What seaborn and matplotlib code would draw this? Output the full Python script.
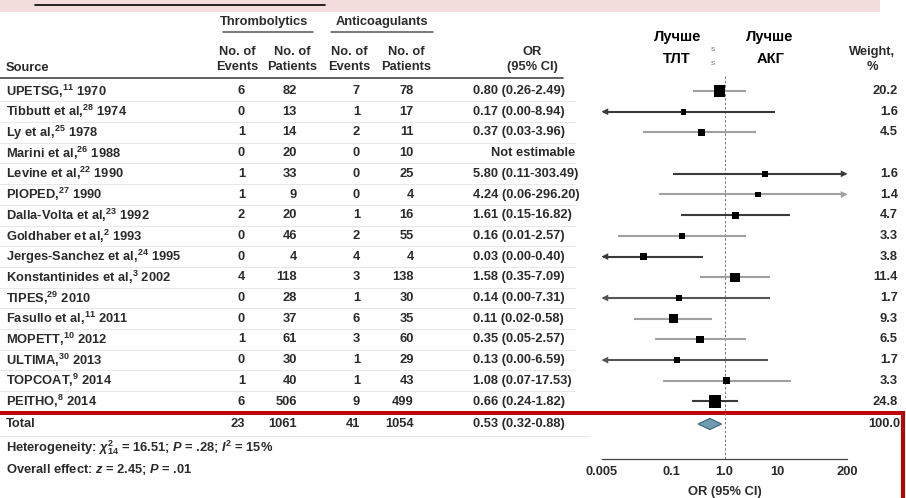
import numpy as np
import pandas as pd
import matplotlib
matplotlib.use('Agg')
import matplotlib.pyplot as plt
from matplotlib import font_manager
from matplotlib.ticker import NullLocator
import seaborn as sns

# Данные исследований (тромболитики vs антикоагулянты)
sources = ['UPETSG', 'Tibbutt et al', 'Ly et al', 'Marini et al', 'Levine et al', 'PIOPED',
           'Dalla-Volta et al', 'Goldhaber et al', 'Jerges-Sanchez et al', 'Konstantinides et al',
           'TIPES', 'Fasullo et al', 'MOPETT', 'ULTIMA', 'TOPCOAT', 'PEITHO']
refs = ['11', '28', '25', '26', '22', '27', '23', '2', '24', '3', '29', '11', '10', '30', '9', '8']
years = [1970, 1974, 1978, 1988, 1990, 1990, 1992, 1993, 1995, 2002, 2010, 2011, 2012, 2013, 2014, 2014]
thr_events = [6, 0, 1, 0, 1, 1, 2, 0, 0, 4, 0, 0, 1, 0, 1, 6]
thr_patients = [82, 13, 14, 20, 33, 9, 20, 46, 4, 118, 28, 37, 61, 30, 40, 506]
acg_events = [7, 1, 2, 0, 0, 0, 1, 2, 4, 3, 1, 6, 3, 1, 1, 9]
acg_patients = [78, 17, 11, 10, 25, 4, 16, 55, 4, 138, 30, 35, 60, 29, 43, 499]
odds_ratio = [0.80, 0.17, 0.37, np.nan, 5.80, 4.24, 1.61, 0.16, 0.03, 1.58, 0.14, 0.11, 0.35, 0.13, 1.08, 0.66]
ci_low = [0.26, 0.00, 0.03, np.nan, 0.11, 0.06, 0.15, 0.01, 0.00, 0.35, 0.00, 0.02, 0.05, 0.00, 0.07, 0.24]
ci_high = [2.49, 8.94, 3.96, np.nan, 303.49, 296.20, 16.82, 2.57, 0.40, 7.09, 7.31, 0.58, 2.57, 6.59, 17.53, 1.82]
weights = [20.2, 1.6, 4.5, np.nan, 1.6, 1.4, 4.7, 3.3, 3.8, 11.4, 1.7, 9.3, 6.5, 1.7, 3.3, 24.8]

total_counts = [23, 1061, 41, 1054]
total_or = [0.53, 0.32, 0.88]
total_weight = 100.0

x_ticks = [0.005, 0.1, 1, 10, 200]
x_ticklabels = ['0.005', '0.1', '1.0', '10', '200']
X_MIN, X_MAX = 0.005, 200

# Раскладка (пиксели)
W, H = 906, 498
ROW_Y0, ROW_DY = 91, 20.7
TOTAL_Y, HET_Y, OVR_Y = 424, 448, 469
AX_TOP, AX_BOTTOM = 75, 459
AX_LEFT, AX_RIGHT = 602, 847
TXT = '#2a2a2a'
line_shades = ['#a0a0a0', '#3a3a3a', '#a0a0a0', '#a0a0a0', '#3a3a3a', '#a0a0a0', '#3a3a3a', '#a0a0a0',
               '#3a3a3a', '#a0a0a0', '#555555', '#a0a0a0', '#a0a0a0', '#555555', '#a0a0a0', '#3a3a3a']

sns.set_theme(style='white')
names = {f.name for f in font_manager.fontManager.ttflist}
FONT = 'Liberation Sans Narrow' if 'Liberation Sans Narrow' in names else 'Liberation Sans'
FS = 10 if FONT == 'Liberation Sans Narrow' else 9.3
plt.rcParams['font.family'] = [FONT, 'DejaVu Sans']
plt.rcParams['mathtext.fontset'] = 'custom'
plt.rcParams['mathtext.rm'] = FONT + ':bold'
plt.rcParams['mathtext.bf'] = FONT + ':bold'
plt.rcParams['mathtext.it'] = FONT + ':italic:bold'

df = pd.DataFrame({'source': sources, 'ref': refs, 'year': years,
                   'te': thr_events, 'tp': thr_patients, 'ae': acg_events, 'ap': acg_patients,
                   'or': odds_ratio, 'lo': ci_low, 'hi': ci_high, 'weight': weights})
df['ypos'] = ROW_Y0 + ROW_DY * np.arange(len(df))

fig = plt.figure(figsize=(W / 100, H / 100), dpi=100)
bg = fig.add_axes([0, 0, 1, 1])
bg.set_xlim(0, W)
bg.set_ylim(H, 0)
bg.axis('off')

# Розовая полоса сверху
bg.add_patch(plt.Rectangle((0, 0), 880, 12, color='#f2dcdc', lw=0))
bg.plot([35, 325], [5, 5], color='black', lw=1.2)

# Заголовки таблицы
hdr = dict(color=TXT, fontsize=FS, fontweight='bold', va='center')
bg.text(264, 22, 'Thrombolytics', ha='center', **hdr)
bg.text(382, 22, 'Anticoagulants', ha='center', **hdr)
bg.plot([223, 313], [32, 32], color='#555', lw=1.1)
bg.plot([331, 433], [32, 32], color='#555', lw=1.1)
for cx, l1, l2 in [(237, 'No. of', 'Events'), (292, 'No. of', 'Patients'),
                   (349, 'No. of', 'Events'), (406, 'No. of', 'Patients'),
                   (532, 'OR', '(95% CI)'), (872, 'Weight,', '%')]:
    bg.text(cx, 52, l1, ha='center', **hdr)
    bg.text(cx, 67, l2, ha='center', **hdr)
bg.text(6, 68, 'Source', ha='left', **hdr)
bg.plot([0, 563], [78, 78], color='#444', lw=1.2)

# Подписи "Лучше ТЛТ / Лучше АКГ"
lab = dict(color='black', fontsize=10.5, fontweight='bold', ha='center', va='center',
           family=['Liberation Sans', 'DejaVu Sans'])
bg.text(678, 37, 'Лучше', **lab)
bg.text(677, 59, 'ТЛТ', **lab)
bg.text(770, 37, 'Лучше', **lab)
bg.text(771, 59, 'АКГ', **lab)
bg.text(713, 49, 's', color='#777', fontsize=6, ha='center', va='center')
bg.text(713, 63, 's', color='#777', fontsize=6, ha='center', va='center')

# Строки таблицы
row = dict(color=TXT, fontsize=FS, fontweight='bold', va='center')
for i, r in df.iterrows():
    y = r['ypos']
    bg.text(6, y, f"{r['source']},$^{{{r['ref']}}}$ {r['year']}", ha='left', **row)
    bg.text(245, y, str(r['te']), ha='right', **row)
    bg.text(297, y, str(r['tp']), ha='right', **row)
    bg.text(360, y, str(r['ae']), ha='right', **row)
    bg.text(414, y, str(r['ap']), ha='right', **row)
    if np.isnan(r['or']):
        bg.text(533, y, 'Not estimable', ha='center', **row)
    else:
        bg.text(473, y, f"{r['or']:.2f} ({r['lo']:.2f}-{r['hi']:.2f})", ha='left', **row)
        bg.text(898, y, f"{r['weight']:.1f}", ha='right', **row)
    if i < len(df) - 1:
        bg.plot([0, 575], [y + ROW_DY / 2, y + ROW_DY / 2], color='#e4e4e4', lw=0.6)

# Итог
bg.text(6, TOTAL_Y, 'Total', ha='left', **row)
for xr, v in zip([245, 297, 360, 414], total_counts):
    bg.text(xr, TOTAL_Y, str(v), ha='right', **row)
bg.text(473, TOTAL_Y, f'{total_or[0]:.2f} ({total_or[1]:.2f}-{total_or[2]:.2f})', ha='left', **row)
bg.text(900, TOTAL_Y, f'{total_weight:.1f}', ha='right', **row)
bg.plot([0, 590], [436, 436], color='#e4e4e4', lw=0.6)
bg.text(6, HET_Y, r'Heterogeneity: $\chi^{2}_{14}$ = 16.51; $P$ = .28; $I^{2}$ = 15%', ha='left', **row)
bg.text(6, OVR_Y, r'Overall effect: $z$ = 2.45; $P$ = .01', ha='left', **row)
bg.text(725, 492, 'OR (95% CI)', ha='center', **row)

# Красная рамка
bg.plot([0, 903, 903], [413, 413, 500], color='#c00000', lw=2.9, solid_joinstyle='miter')

# Форест-плот
ax = fig.add_axes([AX_LEFT / W, 1 - AX_BOTTOM / H, (AX_RIGHT - AX_LEFT) / W, (AX_BOTTOM - AX_TOP) / H])
ax.patch.set_alpha(0)
ax.set_xscale('log')
ax.set_xlim(X_MIN, X_MAX)
ax.set_ylim(AX_BOTTOM, AX_TOP)
ax.axvline(1, color='#777', lw=0.7, ls=(0, (2.5, 2)), zorder=1)

est = df.dropna(subset=['or']).copy()
lo_c = est['lo'].where(est['lo'] >= X_MIN, X_MIN * 1.04)
hi_c = est['hi'].where(est['hi'] <= X_MAX, X_MAX / 1.04)
colors = [line_shades[i] for i in est.index]
ax.hlines(est['ypos'], lo_c, hi_c, colors=colors, lw=1.5, zorder=2)
left_arrow = est[est['lo'] < X_MIN]
right_arrow = est[est['hi'] > X_MAX]
ax.scatter(np.full(len(left_arrow), X_MIN * 1.13), left_arrow['ypos'], marker='<', s=24,
           color=[line_shades[i] for i in left_arrow.index], lw=0, zorder=3)
ax.scatter(np.full(len(right_arrow), X_MAX / 1.13), right_arrow['ypos'], marker='>', s=24,
           color=[line_shades[i] for i in right_arrow.index], lw=0, zorder=3)
sns.scatterplot(data=est, x='or', y='ypos', size='weight', sizes=(14, 80), size_norm=(0, 24.8),
                marker='s', color='black', linewidth=0, legend=False, ax=ax, zorder=4)

# Ромб общего эффекта
ax.fill([total_or[1], total_or[0], total_or[2], total_or[0]],
        [TOTAL_Y, TOTAL_Y - 5.5, TOTAL_Y, TOTAL_Y + 5.5],
        facecolor='#6d9db3', edgecolor='#3b5d6c', lw=0.8, zorder=4)

ax.set_xticks(x_ticks)
ax.set_xticklabels(x_ticklabels)
ax.xaxis.set_minor_locator(NullLocator())
ax.set_yticks([])
ax.set_xlabel('')
ax.set_ylabel('')
for s in ['top', 'left', 'right']:
    ax.spines[s].set_visible(False)
ax.spines['bottom'].set_color('#444')
ax.spines['bottom'].set_linewidth(0.9)
ax.tick_params(axis='x', direction='in', length=4, width=0.9, color='#444', pad=5,
               labelsize=FS, labelcolor=TXT)
for t in ax.get_xticklabels():
    t.set_fontweight('bold')

fig.savefig('out.png', dpi=100)
